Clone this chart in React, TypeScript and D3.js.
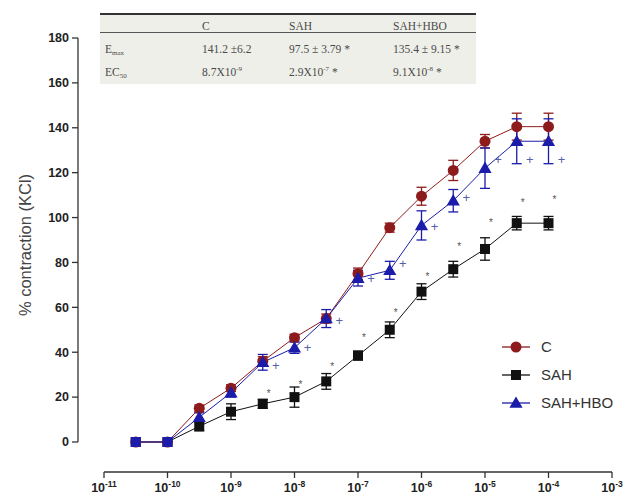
import React from "react";
import * as d3 from "d3";

const doseExp = [-10.5, -10, -9.5, -9, -8.5, -8, -7.5, -7, -6.5, -6, -5.5, -5, -4.5, -4];
const cMean = [0, 0, 15, 24, 36, 46.5, 55, 75, 95.5, 109.5, 121, 134, 140.5, 140.5];
const cErr = [0, 0, 1.5, 1.5, 2, 1.5, 2, 2.5, 2, 4, 4.5, 3, 6, 6];
const sahMean = [0, 0, 7, 13.5, 17, 20, 27, 38.5, 50, 67, 77, 86, 97.5, 97.5];
const sahErr = [0, 0, 2, 3.5, 2, 4.5, 3.5, 2, 3.5, 3.5, 3.5, 5, 3, 3];
const hboMean = [0, 0, 11, 22, 35.5, 42, 55, 73, 76.5, 96.5, 107.5, 122, 134, 134];
const hboErr = [0, 0, 2, 2, 3.5, 2.5, 4, 3.5, 4, 6.5, 5, 9, 10, 10];

// significance marks: dose exponent and the value level where mark sits
const starExp = [-8.5, -8, -7.5, -7, -6.5, -6, -5.5, -5, -4.5, -4];
const starVal = [22.7, 26.7, 34.7, 47.6, 58.7, 74.7, 88, 99, 108, 109];
const plusExp = [-8.5, -8, -7.5, -7, -6.5, -6, -5.5, -5, -4.5, -4];
const plusVal = [34, 42, 54, 73, 79.5, 96, 109, 126, 126, 126];

const xTickExp = [-11, -10, -9, -8, -7, -6, -5, -4, -3];
const yTicks = [0, 20, 40, 60, 80, 100, 120, 140, 160, 180];

const tableHeader = ["", "C", "SAH", "SAH+HBO"];
const emaxRow = ["141.2 ±6.2", "97.5 ± 3.79 *", "135.4 ± 9.15 *"];
const ec50Base = ["8.7X10", "2.9X10", "9.1X10"];
const ec50Exp = ["-9", "-7", "-8"];
const ec50Mark = ["", " *", " *"];

const W = 630;
const H = 498;

export default function App() {
  const x = d3.scaleLog().domain([1e-11, 1e-3]).range([104, 612]);
  const y = d3.scaleLinear().domain([0, 180]).range([442, 38]);
  const px = (e: number) => x(Math.pow(10, e));

  const cColor = "#8e1b1b";
  const sahColor = "#111111";
  const hboColor = "#1c1caa";

  const line = (vals: number[]) =>
    d3.line<number>().x((_, i) => px(doseExp[i])).y((v) => y(v))(vals) || "";

  const errBars = (vals: number[], errs: number[], color: string) =>
    vals.map((v, i) =>
      errs[i] > 0 ? (
        <g key={i} stroke={color} strokeWidth={1.3}>
          <line x1={px(doseExp[i])} x2={px(doseExp[i])} y1={y(v - errs[i])} y2={y(v + errs[i])} />
          <line x1={px(doseExp[i]) - 5} x2={px(doseExp[i]) + 5} y1={y(v + errs[i])} y2={y(v + errs[i])} />
          <line x1={px(doseExp[i]) - 5} x2={px(doseExp[i]) + 5} y1={y(v - errs[i])} y2={y(v - errs[i])} />
        </g>
      ) : null
    );

  const tri = d3.symbol().type(d3.symbolTriangle).size(75)() || "";

  const colX = [105, 202, 289, 393];

  return (
    <svg width={W} height={H} style={{ position: "absolute", left: 0, top: 0, background: "#fff" }}>
      {/* Table */}
      <rect x={100} y={14} width={376} height={70} fill="#efefe9" />
      <line x1={100} x2={476} y1={14} y2={14} stroke="#333" strokeWidth={2} />
      <line x1={100} x2={476} y1={32.5} y2={32.5} stroke="#555" strokeWidth={1} />
      <g fontFamily="Liberation Serif, serif" fontSize={11.5} fill="#4a4a4a">
        {tableHeader.map((t, i) => (
          <text key={i} x={colX[i]} y={29.5}>{t}</text>
        ))}
        <text x={colX[0]} y={53}>E<tspan fontSize={7} dy={2}>max</tspan></text>
        {emaxRow.map((t, i) => (
          <text key={i} x={colX[i + 1]} y={53}>{t}</text>
        ))}
        <text x={colX[0]} y={76}>EC<tspan fontSize={7} dy={2}>50</tspan></text>
        {ec50Base.map((t, i) => (
          <text key={i} x={colX[i + 1]} y={76}>
            {t}
            <tspan fontSize={7} dy={-5}>{ec50Exp[i]}</tspan>
            <tspan dy={5}>{ec50Mark[i]}</tspan>
          </text>
        ))}
      </g>

      {/* Y axis */}
      <line x1={78} x2={78} y1={y(180)} y2={y(0)} stroke="#333" strokeWidth={1.3} />
      <g fontFamily="Liberation Sans, Arial, sans-serif" fontWeight="bold" fontSize={12.5} fill="#222">
        {yTicks.map((t) => (
          <g key={t}>
            <line x1={72} x2={78} y1={y(t)} y2={y(t)} stroke="#333" strokeWidth={1.3} />
            <text x={69} y={y(t)} dy="0.35em" textAnchor="end">{t}</text>
          </g>
        ))}
      </g>
      <text
        transform={`translate(31,245) rotate(-90)`}
        textAnchor="middle"
        fontFamily="Liberation Sans, Arial, sans-serif"
        fontSize={16.5}
        fill="#444"
      >
        % contraction (KCl)
      </text>

      {/* X axis */}
      <line x1={x(1e-11)} x2={x(1e-3)} y1={472} y2={472} stroke="#333" strokeWidth={1.3} />
      <g fontFamily="Liberation Sans, Arial, sans-serif" fontWeight="bold" fontSize={12.5} fill="#222">
        {xTickExp.map((e) => (
          <g key={e}>
            <line x1={px(e)} x2={px(e)} y1={472} y2={478} stroke="#333" strokeWidth={1.3} />
            <text x={px(e)} y={492} textAnchor="middle">
              10<tspan fontSize={8.5} dy={-5}>{String(e)}</tspan>
            </text>
          </g>
        ))}
      </g>

      {/* Lines */}
      <path d={line(sahMean)} fill="none" stroke={sahColor} strokeWidth={1} />
      <path d={line(cMean)} fill="none" stroke={cColor} strokeWidth={1} />
      <path d={line(hboMean)} fill="none" stroke={hboColor} strokeWidth={1} />

      {errBars(sahMean, sahErr, sahColor)}
      {errBars(cMean, cErr, cColor)}
      {errBars(hboMean, hboErr, hboColor)}

      {/* Markers */}
      {sahMean.map((v, i) => (
        <rect key={"s" + i} x={px(doseExp[i]) - 5} y={y(v) - 5} width={10} height={10} fill={sahColor} />
      ))}
      {cMean.map((v, i) => (
        <circle key={"c" + i} cx={px(doseExp[i])} cy={y(v)} r={5.5} fill={cColor} />
      ))}
      {hboMean.map((v, i) =>
        v === 0 ? (
          <rect key={"h" + i} x={px(doseExp[i]) - 5} y={y(v) - 5} width={10} height={10} fill={hboColor} />
        ) : (
          <path key={"h" + i} d={tri} transform={`translate(${px(doseExp[i])},${y(v) + 1})`} fill={hboColor} />
        )
      )}

      {/* Significance marks */}
      <g fontFamily="Liberation Sans, Arial, sans-serif" fontSize={10} fill="#555">
        {starExp.map((e, i) => (
          <text key={i} x={px(e) + 6} y={y(starVal[i])} dy="0.6em" textAnchor="middle">*</text>
        ))}
      </g>
      <g fontFamily="Liberation Sans, Arial, sans-serif" fontSize={13} fill="#5560a8">
        {plusExp.map((e, i) => (
          <text key={i} x={px(e) + 13} y={y(plusVal[i])} dy="0.35em" textAnchor="middle">+</text>
        ))}
      </g>

      {/* Legend */}
      <g fontFamily="Liberation Sans, Arial, sans-serif" fontSize={15} fill="#333">
        <line x1={502} x2={530} y1={347} y2={347} stroke={cColor} strokeWidth={1.3} />
        <circle cx={516} cy={347} r={5.5} fill={cColor} />
        <text x={541} y={347} dy="0.35em">C</text>
        <line x1={502} x2={530} y1={375} y2={375} stroke={sahColor} strokeWidth={1.3} />
        <rect x={511} y={370} width={10} height={10} fill={sahColor} />
        <text x={541} y={375} dy="0.35em">SAH</text>
        <line x1={502} x2={530} y1={403} y2={403} stroke={hboColor} strokeWidth={1.3} />
        <path d={tri} transform={`translate(516,404)`} fill={hboColor} />
        <text x={541} y={403} dy="0.35em">SAH+HBO</text>
      </g>
    </svg>
  );
}
